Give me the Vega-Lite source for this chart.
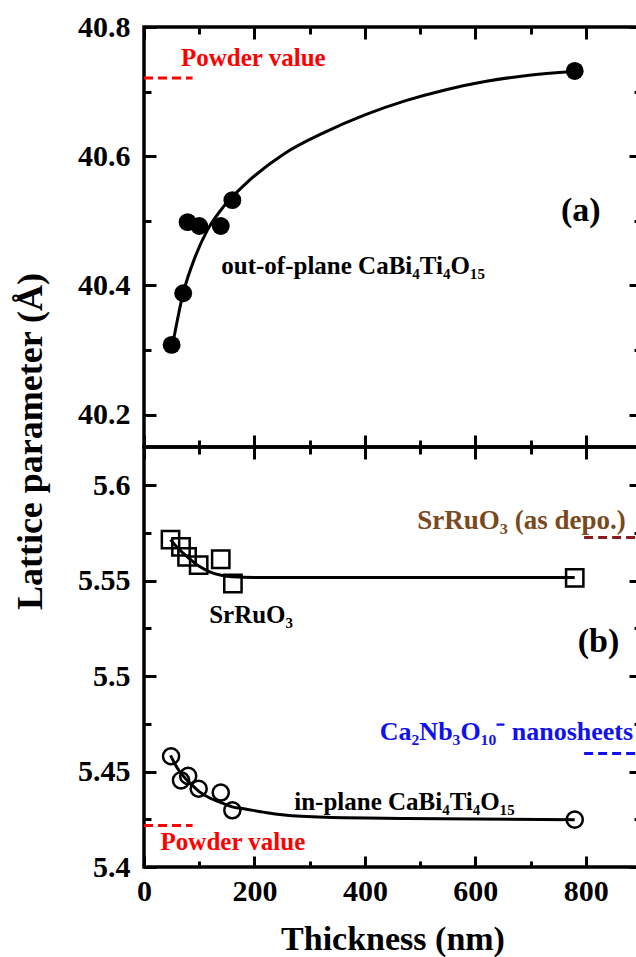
{
  "$schema": "https://vega.github.io/schema/vega-lite/v6.json",
  "padding": {"left": 10, "top": 10, "right": 0, "bottom": 0},
  "spacing": 0,
  "bounds": "flush",
  "background": "white",
  "config": {
    "view": {"stroke": "black", "strokeWidth": 3.5},
    "axis": {"domain": false, "grid": false, "tickColor": "black", "tickWidth": 3, "labelFont": "Liberation Serif", "labelFontWeight": "bold", "labelColor": "black", "labelFontSize": 30, "titleFont": "Liberation Serif", "titleFontWeight": "bold", "titleColor": "black", "labelOverlap": false, "labelFlush": false},
    "text": {"font": "Liberation Serif", "fontWeight": "bold"}
  },
  "datasets": {
    "topFit": [
      {"t": 52, "a": 40.309}, {"t": 71, "a": 40.388}, {"t": 93, "a": 40.445}, {"t": 115, "a": 40.486}, {"t": 144, "a": 40.522}, {"t": 181, "a": 40.555}, {"t": 254, "a": 40.604}, {"t": 327, "a": 40.637}, {"t": 400, "a": 40.664}, {"t": 474, "a": 40.686}, {"t": 547, "a": 40.703}, {"t": 620, "a": 40.716}, {"t": 694, "a": 40.725}, {"t": 778, "a": 40.731}
    ],
    "topPts": [
      {"t": 50, "a": 40.308}, {"t": 71, "a": 40.388}, {"t": 79, "a": 40.498}, {"t": 100, "a": 40.492}, {"t": 139, "a": 40.492}, {"t": 160, "a": 40.532}, {"t": 780, "a": 40.732}
    ],
    "topRule": [{"t0": 0, "t1": 88, "a": 40.721}],
    "botFit": [
      {"s": "SrRuO3", "t": 48, "a": 5.5715}, {"s": "SrRuO3", "t": 60, "a": 5.5675}, {"s": "SrRuO3", "t": 80, "a": 5.562}, {"s": "SrRuO3", "t": 100, "a": 5.5575}, {"s": "SrRuO3", "t": 120, "a": 5.5545}, {"s": "SrRuO3", "t": 140, "a": 5.5528}, {"s": "SrRuO3", "t": 160, "a": 5.552}, {"s": "SrRuO3", "t": 200, "a": 5.5517}, {"s": "SrRuO3", "t": 780, "a": 5.5517},
      {"s": "inplane", "t": 48, "a": 5.4585}, {"s": "inplane", "t": 60, "a": 5.452}, {"s": "inplane", "t": 70, "a": 5.448}, {"s": "inplane", "t": 85, "a": 5.4435}, {"s": "inplane", "t": 100, "a": 5.4395}, {"s": "inplane", "t": 120, "a": 5.436}, {"s": "inplane", "t": 137, "a": 5.434}, {"s": "inplane", "t": 160, "a": 5.4315}, {"s": "inplane", "t": 181, "a": 5.4305}, {"s": "inplane", "t": 220, "a": 5.4285}, {"s": "inplane", "t": 254, "a": 5.4272}, {"s": "inplane", "t": 330, "a": 5.426}, {"s": "inplane", "t": 474, "a": 5.4254}, {"s": "inplane", "t": 780, "a": 5.4248}
    ],
    "squares": [
      {"t": 48, "a": 5.5715}, {"t": 67, "a": 5.5677}, {"t": 78, "a": 5.5624}, {"t": 99, "a": 5.5581}, {"t": 139, "a": 5.5612}, {"t": 161, "a": 5.5485}, {"t": 780, "a": 5.5514}
    ],
    "circles": [
      {"t": 49, "a": 5.458}, {"t": 67, "a": 5.4454}, {"t": 80, "a": 5.4477}, {"t": 99, "a": 5.441}, {"t": 139, "a": 5.439}, {"t": 160, "a": 5.4297}, {"t": 780, "a": 5.4248}
    ],
    "botRules": [
      {"kind": "powder", "t0": 0, "t1": 88, "a": 5.4218},
      {"kind": "asdepo", "t0": 797, "t1": 900, "a": 5.5726},
      {"kind": "nanosheets", "t0": 797, "t1": 900, "a": 5.4594}
    ]
  },
  "vconcat": [
    {
      "width": 497,
      "height": 420,
      "resolve": {"axis": {"x": "independent", "y": "independent"}},
      "layer": [
        {
          "data": {"name": "topFit"},
          "mark": {"type": "line", "color": "black", "strokeWidth": 3, "interpolate": "monotone"},
          "encoding": {
            "x": {"field": "t", "type": "quantitative", "scale": {"domain": [0, 900], "nice": false, "zero": false},
                  "axis": {"orient": "bottom", "values": [0, 200, 400, 600, 800], "labels": false, "tickSize": -12, "title": null}},
            "y": {"field": "a", "type": "quantitative", "scale": {"domain": [40.15, 40.8], "nice": false, "zero": false},
                  "axis": {"orient": "left", "values": [40.2, 40.4, 40.6, 40.8], "format": ".1f", "tickSize": -12, "labelPadding": 26,
                           "title": "Lattice parameter (Å)", "titleFontSize": 36, "titleAngle": 270, "titleX": -114, "titleY": 414, "titleAlign": "center", "titleBaseline": "middle"}}
          }
        },
        {
          "data": {"name": "topPts"},
          "mark": {"type": "point", "shape": "circle", "filled": true, "color": "black", "size": 320, "opacity": 1},
          "encoding": {
            "x": {"field": "t", "type": "quantitative", "axis": {"orient": "top", "values": [0, 200, 400, 600, 800], "labels": false, "tickSize": -12, "title": null}},
            "y": {"field": "a", "type": "quantitative", "axis": {"orient": "right", "values": [40.2, 40.4, 40.6, 40.8], "labels": false, "tickSize": -12, "title": null}}
          }
        },
        {
          "data": {"name": "topRule"},
          "mark": {"type": "rule", "color": "#ff0000", "strokeWidth": 3, "strokeDash": [9, 5]},
          "encoding": {
            "x": {"field": "t0", "type": "quantitative", "axis": {"orient": "bottom", "values": [100, 300, 500, 700], "labels": false, "tickSize": -7, "title": null}},
            "x2": {"field": "t1"},
            "y": {"field": "a", "type": "quantitative", "axis": {"orient": "left", "values": [40.3, 40.5, 40.7], "labels": false, "tickSize": -7, "title": null}}
          }
        },
        {
          "data": {"values": [{"t": 67, "a": 40.752, "label": "Powder value"}]},
          "mark": {"type": "text", "color": "#ff0000", "fontSize": 25, "align": "left", "baseline": "middle"},
          "encoding": {
            "x": {"field": "t", "type": "quantitative", "axis": {"orient": "top", "values": [100, 300, 500, 700], "labels": false, "tickSize": -7, "title": null}},
            "y": {"field": "a", "type": "quantitative", "axis": {"orient": "right", "values": [40.3, 40.5, 40.7], "labels": false, "tickSize": -7, "title": null}},
            "text": {"field": "label"}
          }
        },
        {
          "data": {"values": [{"t": 791, "a": 40.516, "label": "(a)"}]},
          "mark": {"type": "text", "color": "black", "fontSize": 34, "align": "center", "baseline": "middle"},
          "encoding": {
            "x": {"field": "t", "type": "quantitative", "axis": null},
            "y": {"field": "a", "type": "quantitative", "axis": null},
            "text": {"field": "label"}
          }
        },
        {
          "data": {"values": [{"t": 140, "a": 40.43, "label": "out-of-plane CaBi₄Ti₄O₁₅"}]},
          "mark": {"type": "text", "color": "black", "fontSize": 25, "align": "left", "baseline": "middle"},
          "encoding": {
            "x": {"field": "t", "type": "quantitative", "axis": null},
            "y": {"field": "a", "type": "quantitative", "axis": null},
            "text": {"field": "label"}
          }
        }
      ]
    },
    {
      "width": 497,
      "height": 420,
      "resolve": {"axis": {"x": "independent", "y": "independent"}},
      "layer": [
        {
          "data": {"name": "botFit"},
          "mark": {"type": "line", "color": "black", "strokeWidth": 3, "interpolate": "monotone"},
          "encoding": {
            "x": {"field": "t", "type": "quantitative", "scale": {"domain": [0, 900], "nice": false, "zero": false},
                  "axis": {"orient": "bottom", "values": [0, 200, 400, 600, 800], "tickSize": -11, "labelPadding": 20, "title": "Thickness (nm)", "titleFontSize": 34, "titlePadding": 16}},
            "y": {"field": "a", "type": "quantitative", "scale": {"domain": [5.4, 5.62], "nice": false, "zero": false},
                  "axis": {"orient": "left", "values": [5.4, 5.45, 5.5, 5.55, 5.6], "format": ".3~g", "tickSize": -12, "labelPadding": 26, "title": null}},
            "detail": {"field": "s", "type": "nominal"}
          }
        },
        {
          "data": {"name": "squares"},
          "mark": {"type": "point", "shape": "square", "filled": false, "color": "black", "strokeWidth": 2.5, "size": 300, "opacity": 1},
          "encoding": {
            "x": {"field": "t", "type": "quantitative", "axis": {"orient": "top", "values": [0, 200, 400, 600, 800], "labels": false, "tickSize": -12, "title": null}},
            "y": {"field": "a", "type": "quantitative", "axis": {"orient": "right", "values": [5.4, 5.45, 5.5, 5.55, 5.6], "labels": false, "tickSize": -12, "title": null}}
          }
        },
        {
          "data": {"name": "circles"},
          "mark": {"type": "point", "shape": "circle", "filled": false, "color": "black", "strokeWidth": 2.5, "size": 260, "opacity": 1},
          "encoding": {
            "x": {"field": "t", "type": "quantitative", "axis": {"orient": "bottom", "values": [100, 300, 500, 700], "labels": false, "tickSize": -6, "title": null}},
            "y": {"field": "a", "type": "quantitative", "axis": {"orient": "left", "values": [5.425, 5.475, 5.525, 5.575], "labels": false, "tickSize": -7, "title": null}}
          }
        },
        {
          "data": {"name": "botRules"},
          "mark": {"type": "rule", "strokeWidth": 3, "strokeDash": [9, 5]},
          "encoding": {
            "x": {"field": "t0", "type": "quantitative", "axis": {"orient": "top", "values": [100, 300, 500, 700], "labels": false, "tickSize": -7, "title": null}},
            "x2": {"field": "t1"},
            "y": {"field": "a", "type": "quantitative", "axis": {"orient": "right", "values": [5.425, 5.475, 5.525, 5.575], "labels": false, "tickSize": -7, "title": null}},
            "color": {"field": "kind", "type": "nominal", "scale": {"domain": ["powder", "asdepo", "nanosheets"], "range": ["#ff0000", "#8b1a1a", "#1010f0"]}, "legend": null}
          }
        },
        {
          "data": {"values": [{"t": 118, "a": 5.5319, "label": "SrRuO₃"}, {"t": 272, "a": 5.4342, "label": "in-plane CaBi₄Ti₄O₁₅"}]},
          "mark": {"type": "text", "color": "black", "fontSize": 25, "align": "left", "baseline": "middle"},
          "encoding": {
            "x": {"field": "t", "type": "quantitative", "axis": null},
            "y": {"field": "a", "type": "quantitative", "axis": null},
            "text": {"field": "label"}
          }
        },
        {
          "data": {"values": [{"t": 823, "a": 5.518, "label": "(b)"}]},
          "mark": {"type": "text", "color": "black", "fontSize": 34, "align": "center", "baseline": "middle"},
          "encoding": {
            "x": {"field": "t", "type": "quantitative", "axis": null},
            "y": {"field": "a", "type": "quantitative", "axis": null},
            "text": {"field": "label"}
          }
        },
        {
          "data": {"values": [{"t": 30, "a": 5.4133, "label": "Powder value"}]},
          "mark": {"type": "text", "color": "#ff0000", "fontSize": 25, "align": "left", "baseline": "middle"},
          "encoding": {
            "x": {"field": "t", "type": "quantitative", "axis": null},
            "y": {"field": "a", "type": "quantitative", "axis": null},
            "text": {"field": "label"}
          }
        },
        {
          "data": {"values": [{"t": 427, "a": 5.4709, "label": "Ca₂Nb₃O₁₀⁻ nanosheets"}]},
          "mark": {"type": "text", "color": "#1010f0", "fontSize": 26, "align": "left", "baseline": "middle"},
          "encoding": {
            "x": {"field": "t", "type": "quantitative", "axis": null},
            "y": {"field": "a", "type": "quantitative", "axis": null},
            "text": {"field": "label"}
          }
        },
        {
          "data": {"values": [{"t": 495, "a": 5.5811, "label": "SrRuO₃ (as depo.)"}]},
          "mark": {"type": "text", "color": "#7a4a1e", "fontSize": 27, "align": "left", "baseline": "middle"},
          "encoding": {
            "x": {"field": "t", "type": "quantitative", "axis": null},
            "y": {"field": "a", "type": "quantitative", "axis": null},
            "text": {"field": "label"}
          }
        }
      ]
    }
  ]
}
